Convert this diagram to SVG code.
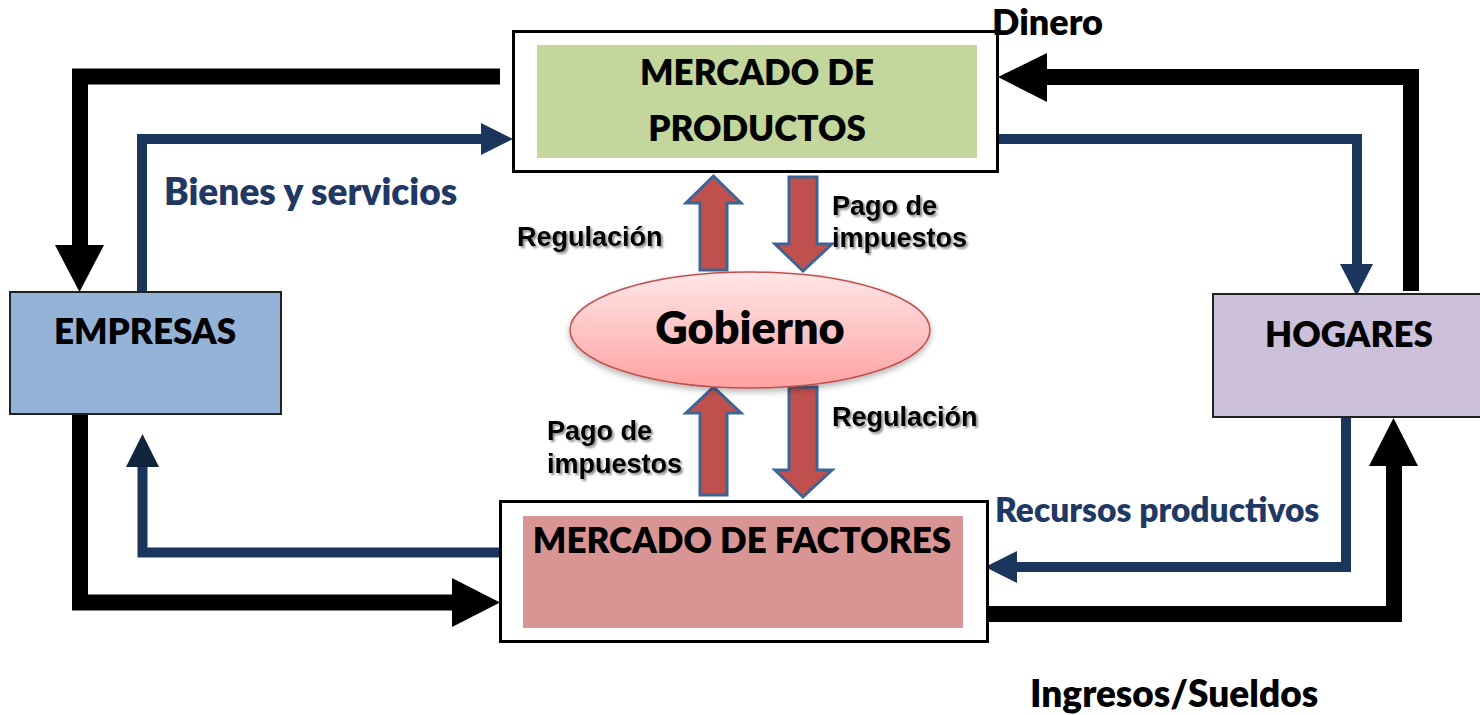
<svg xmlns="http://www.w3.org/2000/svg" width="1480" height="715" viewBox="0 0 1480 715">
<defs>
<linearGradient id="gob" x1="0" y1="0" x2="0" y2="1">
<stop offset="0" stop-color="#FFE6E6"/>
<stop offset="1" stop-color="#FFA2A2"/>
</linearGradient>
<filter id="tsh" x="-10%" y="-20%" width="130%" height="160%">
<feDropShadow dx="2" dy="2" stdDeviation="1.2" flood-color="#000" flood-opacity="0.45"/>
</filter>
<filter id="esh" x="-10%" y="-20%" width="130%" height="160%">
<feDropShadow dx="0" dy="3" stdDeviation="3" flood-color="#000" flood-opacity="0.3"/>
</filter>
</defs>
<style>
.node{font-family:Lato,"Open Sans",sans-serif;font-weight:800;fill:#000;text-anchor:middle}
.lbl{font-family:Lato,"Open Sans",sans-serif;font-weight:800}
.blue{fill:#1F3864}
.reg{font-family:"Liberation Sans",Arial,sans-serif;font-weight:bold;font-size:27px;fill:#000;filter:url(#tsh)}
.blk{fill:none;stroke:#000;stroke-width:16;stroke-linejoin:miter}
.bl{fill:none;stroke:#1B365D;stroke-width:10;stroke-linejoin:miter}
.bh{fill:#1B365D}
.ra{fill:#C0504D;stroke:#3E6496;stroke-width:3;stroke-linejoin:miter}
</style>

<g id="connectors">
<!-- black money flows -->
<polyline class="blk" points="500,76.5 80,76.5 80,248"/>
<polygon points="55,245 104,245 79.5,292" fill="#000"/>
<polyline class="blk" points="1411,291 1411,77 1045,77"/>
<polygon points="1047,53 1047,102 998,77" fill="#000"/>
<polyline class="blk" points="80,415 80,602.5 455,602.5"/>
<polygon points="452,578 452,627 500,602.5" fill="#000"/>
<polyline class="blk" points="988,614 1394,614 1394,463"/>
<polygon points="1369,466 1418,466 1393.5,418" fill="#000"/>
<!-- blue goods flows -->
<polyline class="bl" points="142,292 142,139 484,139"/>
<polygon class="bh" points="481,123 481,155 513,139"/>
<polyline class="bl" points="998,139 1357,139 1357,267"/>
<polygon class="bh" points="1340,264 1373,264 1356.5,296"/>
<polyline class="bl" points="1346,415 1346,567 1014,567"/>
<polygon class="bh" points="1017,551 1017,583 985,567"/>
<polyline class="bl" points="500,552.5 142.5,552.5 142.5,464"/>
<polygon points="126,467 159,467 142.5,434" fill="#10243E"/>
<!-- red block arrows -->
<polygon class="ra" points="700,270 700,203 686,203 713.5,176 741,203 727,203 727,270"/>
<polygon class="ra" points="789,177 817,177 817,244 832,244 803,271 775,244 789,244"/>
<polygon class="ra" points="700,495 700,413 686,413 713.5,387 741,413 727,413 727,495"/>
<polygon class="ra" points="789,387 817,387 817,470 832,470 803,497 775,470 789,470"/>
</g>

<g id="mercado-productos">
<rect x="513.5" y="31.5" width="484" height="140" fill="#fff" stroke="#000" stroke-width="3"/>
<rect x="537" y="45" width="440" height="113" fill="#C3D69B"/>
<text class="node" x="757" y="85" font-size="35">MERCADO DE</text>
<text class="node" x="757" y="141" font-size="35">PRODUCTOS</text>
</g>

<g id="mercado-factores">
<rect x="500.5" y="501.5" width="487" height="140" fill="#fff" stroke="#000" stroke-width="3"/>
<rect x="523" y="516" width="440" height="112" fill="#D99594"/>
<text class="node" x="742" y="553" font-size="35">MERCADO DE FACTORES</text>
</g>

<g id="empresas">
<rect x="10" y="292" width="271" height="122" fill="#95B3D7" stroke="#222" stroke-width="2"/>
<text class="node" x="145" y="344" font-size="35">EMPRESAS</text>
</g>

<g id="hogares">
<rect x="1213" y="294" width="270" height="123" fill="#CCC0DA" stroke="#222" stroke-width="2"/>
<text class="node" x="1349" y="347" font-size="35">HOGARES</text>
</g>

<g id="gobierno">
<ellipse cx="750" cy="330" rx="180" ry="58" fill="url(#gob)" stroke="#C0504D" stroke-width="1.5" filter="url(#esh)"/>
<text class="node" x="750" y="344" font-size="45">Gobierno</text>
</g>

<g id="labels">
<text class="lbl" x="992" y="35" font-size="36" fill="#000">Dinero</text>
<text class="lbl blue" x="164" y="205" font-size="37">Bienes y servicios</text>
<text class="lbl blue" x="995" y="522" font-size="33.5">Recursos productivos</text>
<text class="lbl" x="1030" y="707" font-size="37" fill="#000">Ingresos/Sueldos</text>
<text class="reg" x="517" y="246">Regulación</text>
<text class="reg" x="832" y="215">Pago de</text>
<text class="reg" x="832" y="247">impuestos</text>
<text class="reg" x="832" y="426">Regulación</text>
<text class="reg" x="547" y="440">Pago de</text>
<text class="reg" x="547" y="473">impuestos</text>
</g>
</svg>
